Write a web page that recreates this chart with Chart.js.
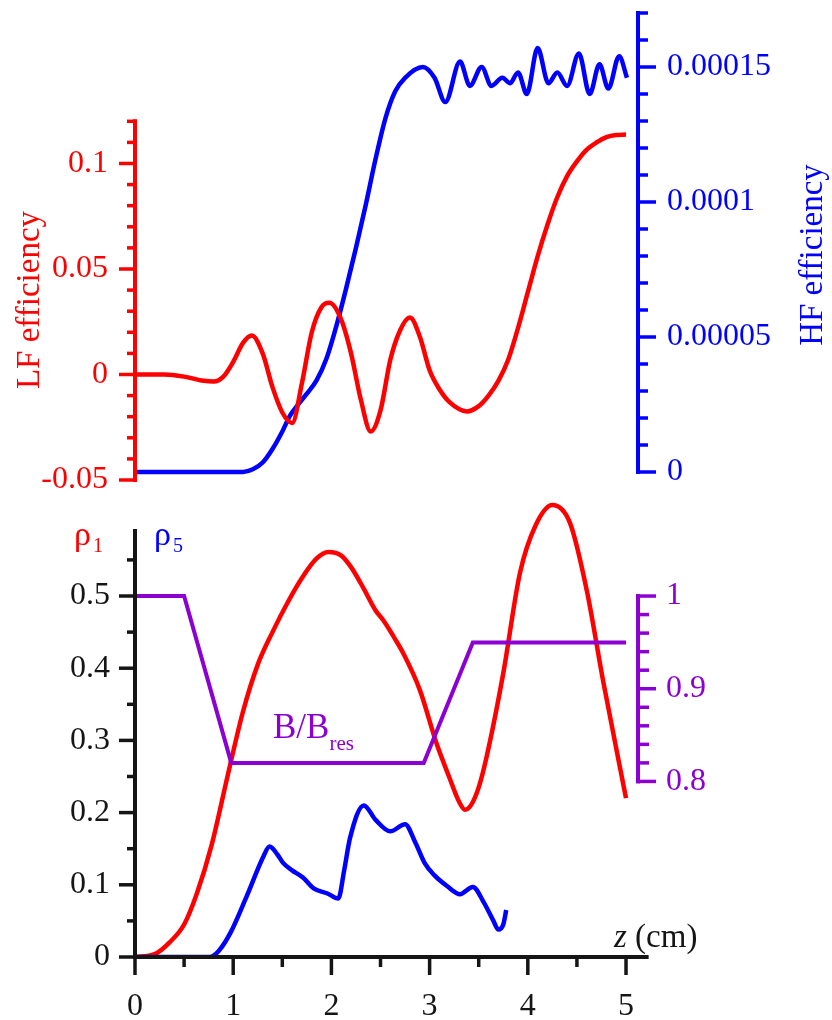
<!DOCTYPE html>
<html>
<head>
 <meta charset="utf-8">
 <title>LF / HF efficiency and rho profiles</title>
 <script src="https://cdn.jsdelivr.net/npm/chart.js@4.4.0/dist/chart.umd.min.js"></script>
 <style>
  body { margin: 0; background: #fff; }
  .pane { position: absolute; left: 0; }
 </style>
</head>
<body>

<div class="pane" style="top:0"><canvas id="topChart" width="832" height="495"></canvas></div>
<div class="pane" style="top:495px"><canvas id="botChart" width="832" height="525"></canvas></div>

<script>
 // ---- top panel: LF efficiency (left axis) and HF efficiency (right axis) vs z (cm)
 var lfZ   = [0, 0.3, 0.5, 0.7, 0.8, 0.9, 1.0, 1.1, 1.19, 1.3, 1.4, 1.5, 1.6, 1.7, 1.8, 1.9, 1.98, 2.1, 2.2, 2.3, 2.4, 2.5, 2.6, 2.7, 2.8, 2.9, 3.0, 3.1, 3.2, 3.38, 3.5, 3.6, 3.7, 3.8, 3.9, 4.0, 4.1, 4.2, 4.3, 4.4, 4.5, 4.6, 4.7, 4.8, 4.9, 5.0];
 var lfEff = [0, 0, -0.001, -0.003, -0.0033, -0.001, 0.006, 0.015, 0.0185, 0.010, -0.006, -0.018, -0.023, -0.004, 0.020, 0.032, 0.034, 0.026, 0.010, -0.012, -0.027, -0.017, 0.007, 0.021, 0.027, 0.018, 0.002, -0.007, -0.013, -0.0175, -0.015, -0.010, -0.003, 0.007, 0.022, 0.039, 0.056, 0.071, 0.084, 0.094, 0.101, 0.1066, 0.110, 0.1125, 0.1135, 0.1137];

 var hfZ   = [0, 1.1, 1.2, 1.3, 1.4, 1.5, 1.58, 1.65, 1.75, 1.85, 1.95, 2.05, 2.15, 2.25, 2.35, 2.45, 2.55, 2.65, 2.75, 2.93, 3.05, 3.16, 3.31, 3.41, 3.53, 3.63, 3.74, 3.82, 3.90, 3.99, 4.10, 4.21, 4.30, 4.40, 4.52, 4.63, 4.73, 4.82, 4.93, 5.01];
 var hfEff = [0, 0, 0.1e-5, 0.35e-5, 0.85e-5, 1.5e-5, 2.1e-5, 2.45e-5, 2.9e-5, 3.4e-5, 4.2e-5, 5.4e-5, 6.8e-5, 8.3e-5, 9.9e-5, 11.6e-5, 13.1e-5, 14.1e-5, 14.6e-5, 15.0e-5, 14.6e-5, 13.7e-5, 15.2e-5, 14.3e-5, 15.0e-5, 14.3e-5, 14.6e-5, 14.4e-5, 14.8e-5, 14.0e-5, 15.7e-5, 14.4e-5, 14.8e-5, 14.3e-5, 15.5e-5, 14.0e-5, 15.1e-5, 14.2e-5, 15.4e-5, 14.6e-5];

 // ---- bottom panel: rho1, rho5 (left axis) and B/Bres (right axis) vs z (cm)
 var rho1Z = [0, 0.2, 0.35, 0.5, 0.63, 0.78, 0.95, 1.1, 1.25, 1.4, 1.55, 1.7, 1.85, 1.97, 2.1, 2.2, 2.33, 2.45, 2.53, 2.65, 2.73, 2.9, 3.07, 3.2, 3.3, 3.36, 3.42, 3.5, 3.58, 3.75, 3.92, 4.08, 4.25, 4.43, 4.6, 4.77, 5.0];
 var rho1  = [0, 0.004, 0.02, 0.045, 0.088, 0.155, 0.255, 0.34, 0.405, 0.45, 0.49, 0.525, 0.552, 0.561, 0.556, 0.54, 0.51, 0.48, 0.466, 0.44, 0.421, 0.37, 0.296, 0.249, 0.215, 0.204, 0.21, 0.235, 0.277, 0.393, 0.532, 0.598, 0.626, 0.601, 0.508, 0.38, 0.22];

 var rho5Z = [0, 0.5, 0.76, 0.85, 0.97, 1.14, 1.31, 1.37, 1.45, 1.51, 1.6, 1.71, 1.82, 1.96, 2.07, 2.13, 2.19, 2.33, 2.45, 2.6, 2.75, 2.85, 2.95, 3.05, 3.18, 3.31, 3.44, 3.55, 3.65, 3.70, 3.75, 3.78];
 var rho5  = [0, 0, 0, 0.008, 0.033, 0.085, 0.14, 0.153, 0.142, 0.13, 0.12, 0.11, 0.095, 0.088, 0.081, 0.12, 0.165, 0.21, 0.19, 0.174, 0.184, 0.16, 0.13, 0.113, 0.098, 0.087, 0.097, 0.076, 0.05, 0.038, 0.045, 0.065];

 var bZ     = [0, 0.5, 0.98, 2.94, 3.44, 5.0];
 var bRatio = [1, 1, 0.82, 0.82, 0.95, 0.95];

 // tick labels
 var lfTicks   = [-0.05, 0, 0.05, 0.1];
 var lfLabels  = ['-0.05', '0', '0.05', '0.1'];
 var hfTicks   = [0, 0.00005, 0.0001, 0.00015];
 var hfLabels  = ['0', '0.00005', '0.0001', '0.00015'];
 var rhoTicks  = [0, 0.1, 0.2, 0.3, 0.4, 0.5];
 var rhoLabels = ['0', '0.1', '0.2', '0.3', '0.4', '0.5'];
 var bTicks    = [0.8, 0.9, 1];
 var bLabels   = ['0.8', '0.9', '1'];
 var zTicks    = [0, 1, 2, 3, 4, 5];
 var zLabels   = ['0', '1', '2', '3', '4', '5'];

 var RED = '#ff0000', BLUE = '#0000ff', PURPLE = '#8c00d2', BLACK = '#151515';
 var SERIF = "'Liberation Serif', 'Times New Roman', serif";

 function pts(xs, ys) { return xs.map(function(x, i) { return {x: x, y: ys[i]}; }); }
 function setWidth(w) { return function(s) { s.width = w; }; }
 function setHeight(h) { return function(s) { s.height = h; }; }

 // draws axis lines, major/minor tick marks and tick labels through the chart's own scales
 var axisMarks = {
   id: 'axisMarks',
   afterDraw: function(chart, args, opts) {
     var ctx = chart.ctx, area = chart.chartArea;
     (opts.axes || []).forEach(function(a) {
       var sc = chart.scales[a.scale];
       var horiz = sc.isHorizontal();
       ctx.save();
       ctx.strokeStyle = a.color;
       ctx.lineWidth = a.width;
       ctx.lineCap = 'square';
       var base = horiz ? area.bottom : (a.side === 'left' ? area.left : area.right);
       var dir = (a.side === 'left') ? -1 : 1;
       ctx.beginPath();
       if (horiz) {
         ctx.moveTo(sc.getPixelForValue(a.lineLo), base);
         ctx.lineTo(sc.getPixelForValue(a.lineHi), base);
       } else {
         ctx.moveTo(base, sc.getPixelForValue(a.lineLo));
         ctx.lineTo(base, sc.getPixelForValue(a.lineHi));
       }
       ctx.stroke();
       ctx.lineCap = 'butt';
       ctx.lineWidth = a.tickWidth;
       var n = Math.round((a.tickHi - a.tickLo) / a.step);
       for (var i = 0; i <= n; i++) {
         var v = a.tickLo + i * a.step;
         var r = v / a.major;
         var len = Math.abs(r - Math.round(r)) < 1e-6 ? a.majorLen : a.minorLen;
         var p = sc.getPixelForValue(v);
         ctx.beginPath();
         if (horiz) { ctx.moveTo(p, base); ctx.lineTo(p, base + len); }
         else { ctx.moveTo(base, p); ctx.lineTo(base + dir * len, p); }
         ctx.stroke();
       }
       // tick labels
       ctx.fillStyle = a.color;
       ctx.font = a.fontSize + 'px ' + SERIF;
       a.ticks.forEach(function(v, k) {
         var p = sc.getPixelForValue(v);
         if (horiz) {
           ctx.textAlign = 'center'; ctx.textBaseline = 'alphabetic';
           ctx.fillText(a.labels[k], p, base + a.gap);
         } else {
           ctx.textAlign = a.side === 'left' ? 'right' : 'left'; ctx.textBaseline = 'middle';
           ctx.fillText(a.labels[k], base + dir * a.gap, p);
         }
       });
       ctx.restore();
     });
     // free text (axis titles, curve names)
     (opts.texts || []).forEach(function(t) {
       ctx.save();
       ctx.translate(t.x, t.y);
       if (t.rot) ctx.rotate(t.rot * Math.PI / 180);
       ctx.textBaseline = 'alphabetic';
       ctx.textAlign = 'left';
       var total = 0;
       t.runs.forEach(function(r) { ctx.font = (r.style || '') + ' ' + r.size + 'px ' + SERIF; total += ctx.measureText(r.t).width; });
       var x = t.center ? -total / 2 : 0;
       t.runs.forEach(function(r) {
         ctx.font = (r.style || '') + ' ' + r.size + 'px ' + SERIF;
         ctx.fillStyle = r.color;
         ctx.fillText(r.t, x + (r.dx || 0), r.dy || 0);
         x += ctx.measureText(r.t).width + (r.dx || 0);
       });
       ctx.restore();
     });
   }
 };

 var line = function(data, color, w, smooth) {
   return { data: data, borderColor: color, borderWidth: w, pointRadius: 0, fill: false,
            cubicInterpolationMode: smooth ? 'monotone' : 'default', tension: 0 };
 };
 var hiddenAxis = function(pos, min, max) {
   return { type: 'linear', position: pos, min: min, max: max,
            grid: { display: false, drawTicks: false }, border: { display: false },
            ticks: { display: false } };
 };

 // ---------------- top chart
 var topCtx = document.getElementById('topChart');
 var lfLine = line(pts(lfZ, lfEff), RED, 4.5, true); lfLine.yAxisID = 'yLF';
 var hfLine = line(pts(hfZ, hfEff), BLUE, 4.5, true); hfLine.yAxisID = 'yHF';
 var topScales = {
   x: { type: 'linear', min: 0, max: 5.122, display: false },
   yLF: hiddenAxis('left', -0.05, 0.1718),
   yHF: hiddenAxis('right', -2.963e-6, 1.7037e-4)
 };
 topScales.yLF.afterFit = setWidth(135);
 topScales.yHF.afterFit = setWidth(194);
 new Chart(topCtx, {
   type: 'line',
   data: { datasets: [lfLine, hfLine] },
   plugins: [axisMarks],
   options: {
     responsive: false, animation: false, events: [],
     layout: { padding: { top: 12, bottom: 15, left: 0, right: 0 } },
     plugins: {
       legend: { display: false }, tooltip: { enabled: false },
       axisMarks: {
         axes: [
           { scale: 'yLF', side: 'left', color: RED, width: 4, tickWidth: 3.5, lineLo: -0.05, lineHi: 0.12,
             tickLo: -0.05, tickHi: 0.12, step: 0.01, major: 0.05, majorLen: 16, minorLen: 8,
             ticks: lfTicks, labels: lfLabels, gap: 27, fontSize: 32 },
           { scale: 'yHF', side: 'right', color: BLUE, width: 4, tickWidth: 3.5, lineLo: 0, lineHi: 0.00017,
             tickLo: 0, tickHi: 0.00017, step: 0.00001, major: 0.00005, majorLen: 18, minorLen: 10,
             ticks: hfTicks, labels: hfLabels, gap: 29, fontSize: 32 }
         ],
         texts: [
           { x: 39, y: 300, rot: -90, center: true, runs: [{t: 'LF efficiency', size: 33, color: RED}] },
           { x: 822, y: 255, rot: -90, center: true, runs: [{t: 'HF efficiency', size: 33, color: BLUE}] }
         ]
       }
     },
     scales: topScales
   }
 });

 // ---------------- bottom chart
 var botCtx = document.getElementById('botChart');
 var r1Line = line(pts(rho1Z, rho1), RED, 4.5, true); r1Line.yAxisID = 'yRho';
 var r5Line = line(pts(rho5Z, rho5), BLUE, 4.5, true); r5Line.yAxisID = 'yRho';
 var bLine  = line(pts(bZ, bRatio), PURPLE, 4, false); bLine.yAxisID = 'yB';
 var botScales = {
   x: hiddenAxis('bottom', 0, 5.122),
   yRho: hiddenAxis('left', 0, 0.6399),
   yB: hiddenAxis('right', 0.6106, 1.109)
 };
 botScales.x.afterFit = setHeight(63);
 botScales.yRho.afterFit = setWidth(135);
 botScales.yB.afterFit = setWidth(194);
 new Chart(botCtx, {
   type: 'line',
   data: { datasets: [bLine, r5Line, r1Line] },
   plugins: [axisMarks],
   options: {
     responsive: false, animation: false, events: [],
     layout: { padding: 0 },
     plugins: {
       legend: { display: false }, tooltip: { enabled: false },
       axisMarks: {
         axes: [
           { scale: 'yRho', side: 'left', color: BLACK, width: 4, tickWidth: 3.5, lineLo: 0, lineHi: 0.59,
             tickLo: 0, tickHi: 0.55, step: 0.05, major: 0.1, majorLen: 16, minorLen: 8,
             ticks: rhoTicks, labels: rhoLabels, gap: 25, fontSize: 32 },
           { scale: 'x', side: 'bottom', color: BLACK, width: 4, tickWidth: 3.5, lineLo: 0, lineHi: 5.21,
             tickLo: 0, tickHi: 5, step: 0.5, major: 1, majorLen: 18, minorLen: 10,
             ticks: zTicks, labels: zLabels, gap: 58, fontSize: 32 },
           { scale: 'yB', side: 'right', color: PURPLE, width: 4, tickWidth: 3.5, lineLo: 0.8, lineHi: 1,
             tickLo: 0.8, tickHi: 1, step: 0.02, major: 0.1, majorLen: 18, minorLen: 11,
             ticks: bTicks, labels: bLabels, gap: 28, fontSize: 32 }
         ],
         texts: [
           { x: 74, y: 50, runs: [{t: '\u03c1', size: 34, color: RED}, {t: '1', size: 20, color: RED, dy: 7, dx: 2}] },
           { x: 154, y: 50, runs: [{t: '\u03c1', size: 34, color: BLUE}, {t: '5', size: 20, color: BLUE, dy: 7, dx: 2}] },
           { x: 273, y: 243, runs: [{t: 'B/B', size: 35, color: PURPLE}, {t: 'res', size: 21, color: PURPLE, dy: 12}] },
           { x: 614, y: 452, runs: [{t: 'z', size: 33, color: BLACK, style: 'italic'}, {t: ' (cm)', size: 33, color: BLACK}] }
         ]
       }
     },
     scales: botScales
   }
 });
</script>
</body>
</html>
